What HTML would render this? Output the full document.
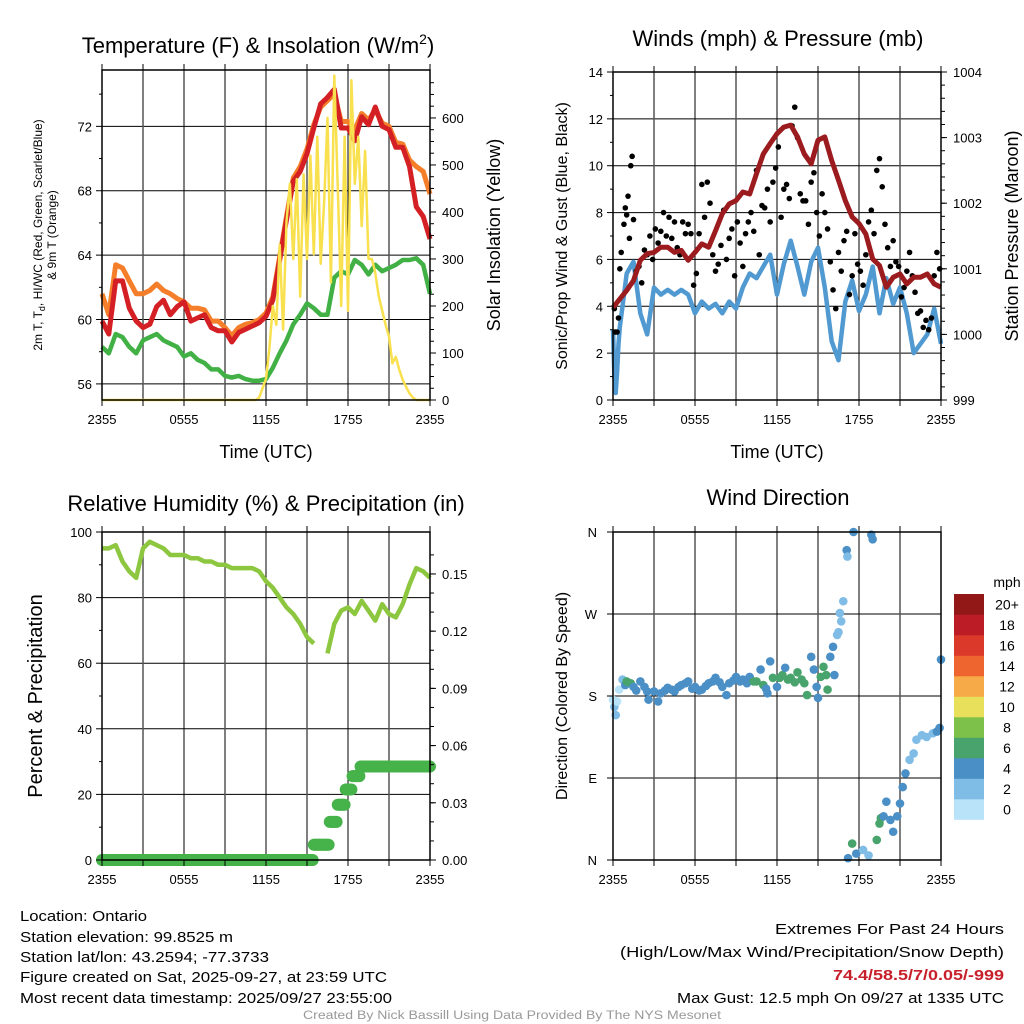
<!DOCTYPE html>
<html><head><meta charset="utf-8"><title>Mesonet Meteogram</title>
<style>
html,body{margin:0;padding:0;background:#fff;}
svg{display:block;font-family:"Liberation Sans",sans-serif;}
</style></head>
<body>
<svg id="chart" width="1024" height="1024" viewBox="0 0 1024 1024" xmlns="http://www.w3.org/2000/svg"></svg>
<script>
// ---------- DATA ----------
const xTickLabels = ["2355","0555","1155","1755","2355"];
const tempTicks = [56,60,64,68,72];
const solarTicks = [0,100,200,300,400,500,600];
const windTicks = [0,2,4,6,8,10,12,14];
const presTicks = [999,1000,1001,1002,1003,1004];
const rhTicks = [0,20,40,60,80,100];
const precTicks = [0.00,0.03,0.06,0.09,0.12,0.15];
const dirTickLabels = ["N","E","S","W","N"];
const speedBinLabels = ["0","2","4","6","8","10","12","14","16","18","20+"];

// temperature (half-hour samples from 2355)
const temp2m = [59.9,59.1,62.4,62.4,60.7,59.9,59.5,59.7,60.8,61.2,60.3,60.8,61.1,59.9,60.1,60.3,59.5,59.3,59.3,58.6,59.2,59.4,59.6,59.8,60.2,61.2,63.7,66.2,68.6,69.2,70.3,71.9,73.4,73.8,74.3,71.9,71.9,71.1,72.6,72.1,73.2,72.0,71.8,70.7,70.7,69.5,67.0,66.4,65.0];
const temp9m = [61.6,60.3,63.4,63.2,62.4,61.6,61.6,61.8,62.2,61.8,61.6,61.3,61.1,60.7,60.7,60.6,59.9,59.9,59.5,59.0,59.5,59.7,59.8,60.0,60.4,61.4,63.9,66.4,68.8,69.5,70.6,72.1,73.2,73.6,74.0,72.3,72.3,71.8,72.8,72.4,73.0,72.2,72.0,71.0,70.9,69.9,69.5,69.2,67.8];
const dewpoint = [58.3,57.9,59.1,58.9,58.3,57.9,58.7,58.9,59.1,58.7,58.5,58.3,57.7,57.9,57.5,57.3,56.9,56.9,56.5,56.4,56.5,56.3,56.2,56.2,56.3,57.0,57.9,58.7,59.7,60.3,61.0,60.7,60.3,60.3,62.6,63.0,62.8,63.7,63.4,62.8,63.4,63.0,63.2,63.4,63.7,63.7,63.8,63.4,61.6];
// solar: value at 2355 then quarter-hour samples from hour 11
const solarStartHour = 11;
const solarFirst = 0;
const solar = [0,0,5,25,45,110,200,160,330,150,380,460,300,470,220,480,300,520,310,560,290,420,600,250,690,450,200,560,190,680,460,560,370,530,300,300,270,220,190,160,135,78,92,64,43,28,14,5,0,0,0,0,0];

// winds
const windHoursStart = [0,0.1,0.2,0.3,0.4,0.5];
const windStartVals = [3.0,1.0,0.3,1.2,2.4,3.1];
const windHalfHourly = [5.4,5.9,3.7,2.8,4.8,4.5,4.7,4.5,4.7,4.5,3.7,4.2,3.9,4.1,3.7,4.2,3.9,4.8,5.4,5.2,5.7,6.2,4.5,5.8,6.8,5.7,4.5,5.9,6.5,4.8,2.5,1.7,4.2,5.1,3.8,4.5,5.7,3.7,5.2,4.1,4.8,3.7,2.0,2.4,2.8,3.9,2.4];
const gustHours = [0.1,0.15,0.3,0.4,0.5,0.6,0.8,0.9,1.0,1.1,1.2,1.3,1.4,1.5,1.7,1.9,2.1,2.3,2.5,2.7,2.9,3.1,3.3,3.5,3.7,3.9,4.1,4.3,4.5,4.7,4.9,5.1,5.3,5.5,5.7,5.9,6.1,6.3,6.5,6.7,6.9,7.1,7.3,7.5,7.7,7.9,8.1,8.3,8.5,8.7,8.9,9.1,9.3,9.5,9.7,9.9,10.1,10.3,10.5,10.7,10.9,11.1,11.3,11.5,11.7,11.9,12.1,12.3,12.5,12.7,12.9,13.1,13.3,13.5,13.7,13.9,14.1,14.3,14.5,14.7,14.9,15.1,15.3,15.5,15.7,15.9,16.1,16.3,16.5,16.7,16.9,17.1,17.3,17.5,17.7,17.9,18.1,18.3,18.5,18.7,18.9,19.1,19.3,19.5,19.7,19.9,20.1,20.3,20.5,20.7,20.9,21.1,21.3,21.5,21.7,21.9,22.1,22.3,22.5,22.7,22.9,23.1,23.3,23.5,23.7,23.9];
const gustVals = [3.9,2.9,2.9,3.5,5.6,6.3,7.5,8.2,7.9,8.7,6.9,10.0,10.4,7.7,5.5,5.7,5.0,6.4,6.2,7.0,6.0,7.3,6.7,7.2,8.0,7.0,7.8,6.9,7.6,6.5,6.2,7.6,7.1,7.5,7.1,4.9,5.4,7.1,9.2,7.8,9.3,8.4,6.2,5.5,5.8,6.6,8.1,6.0,6.9,7.3,5.3,7.6,6.7,5.7,7.1,7.6,8.0,7.2,9.8,6.2,8.3,8.2,9.0,7.6,9.3,9.9,10.8,7.8,9.0,9.2,8.6,11.7,12.5,11.2,8.8,8.5,8.5,7.5,9.3,9.7,8.0,7.0,8.8,8.0,7.3,5.9,4.7,3.9,6.3,5.5,6.8,7.2,4.5,5.3,7.1,5.8,5.5,4.9,6.2,7.6,8.1,7.1,9.8,10.3,9.1,7.5,6.5,5.7,6.8,5.9,5.7,4.4,4.8,5.5,6.3,5.3,4.6,3.7,3.8,3.1,3.4,3.0,3.5,5.3,6.3,5.6];
const pressure = [1000.41,1000.54,1000.67,1000.82,1001.13,1001.23,1001.25,1001.33,1001.33,1001.25,1001.28,1001.13,1001.25,1001.38,1001.33,1001.58,1001.84,1001.99,1002.04,1002.17,1002.14,1002.45,1002.75,1002.91,1003.06,1003.16,1003.19,1003.01,1002.75,1002.60,1002.96,1003.01,1002.65,1002.35,1002.04,1001.79,1001.69,1001.53,1001.15,1001.05,1000.72,1000.87,1000.92,1000.77,1000.87,1000.87,1000.92,1000.77,1000.72];

// humidity & precip
const rh = [95,95,96,91,88,86,95,97,96,95,93,93,93,92,92,91,91,90,90,89,89,89,89,88,85,83,80,77,75,72,68,66,null,63,72,76,77,75,79,76,73,78,75,74,78,84,89,88,86];
const precipStepHours = [0,15.5,16.6,17.2,17.8,18.3,18.9];
const precipStepVals = [0,0.008,0.02,0.029,0.037,0.044,0.049];

// wind direction
const dirHours = [0.0,0.1,0.2,0.3,0.45,0.7,0.9,1.0,1.3,1.5,1.7,2.0,2.3,2.5,2.6,3.0,3.3,3.5,3.8,4.0,4.3,4.5,4.8,5.0,5.3,5.5,5.8,6.0,6.3,6.5,6.8,7.0,7.3,7.5,7.8,8.0,8.3,8.5,8.8,9.0,9.3,9.5,9.8,10.0,10.3,10.5,10.8,11.0,11.2,11.3,11.5,11.7,12.0,12.2,12.4,12.6,12.8,13.0,13.3,13.5,13.8,14.0,14.2,14.5,14.7,14.9,15.0,15.2,15.4,15.6,15.7,15.9,16.1,16.2,16.4,16.5,16.6,16.7,16.85,17.1,17.15,17.6,18.9,19.0,17.2,17.5,17.8,18.3,18.7,19.3,19.5,19.6,19.8,20.0,20.3,20.5,20.8,21.0,21.2,21.4,21.7,22.0,22.2,22.6,22.95,23.4,23.7,23.9,24.0];
const dirDeg = [176,168,159,174,187,198,192,196,194,190,186,196,190,185,176,185,174,183,186,189,187,185,190,192,194,196,188,190,186,187,191,194,196,200,195,190,181,194,197,201,196,198,194,201,196,196,209,192,188,183,218,200,190,200,203,211,198,200,195,206,198,194,181,223,209,190,178,201,212,203,187,223,234,203,247,250,271,262,284,340,333,360,357,352,2,18,7,11,5,22,40,46,48,64,44,31,48,62,80,95,110,117,132,137,135,139,141,145,220];
const dirSpeed = [1,3,3,1,1,3,5,7,7,5,5,5,5,5,5,5,5,5,5,5,5,5,5,5,5,5,5,5,5,5,5,5,5,5,5,5,5,5,5,5,5,5,5,5,7,7,5,7,5,5,5,7,5,7,7,5,7,7,7,7,7,7,7,5,5,5,5,7,7,7,7,5,5,5,3,3,3,3,3,5,3,5,5,5,5,7,5,3,3,7,7,7,5,5,5,5,5,5,5,5,3,3,3,3,3,3,5,5,5];
const speedColors = ["#b8e3f8","#7fbce6","#4a8fc6","#48a46c","#7dc04a","#e8e05a","#f6ab48","#ef6530","#db3a2a","#bb1c25","#921818"];

// ---------- HELPERS ----------
const NS = "http://www.w3.org/2000/svg";
const svg = document.getElementById("chart");
function el(tag, attrs, parent){
  const e = document.createElementNS(NS, tag);
  for (const k in attrs) e.setAttribute(k, attrs[k]);
  (parent||svg).appendChild(e);
  return e;
}
function txt(s, x, y, size, anchor, parent, extra){
  const t = el("text", Object.assign({x:x, y:y, "font-size":size, "text-anchor":anchor||"middle", fill:"#000"}, extra||{}), parent);
  t.textContent = s;
  return t;
}
function scale(d0,d1,r0,r1){ return v => r0 + (v-d0)/(d1-d0)*(r1-r0); }
function pathFrom(xs, ys, sx, sy){
  let d="", pen=false;
  for (let i=0;i<xs.length;i++){
    if (ys[i]===null){ pen=false; continue; }
    d += (pen?"L":"M") + sx(xs[i]).toFixed(1) + "," + sy(ys[i]).toFixed(1);
    pen=true;
  }
  return d;
}
function halfHours(n){ const a=[]; for(let i=0;i<n;i++) a.push(i*0.5); return a; }

function frame(g, L, T, R, B, hGrid, sy, vGridX){
  for (const v of hGrid){
    const ln = el("line",{x1:L,x2:R,y1:sy(v),y2:sy(v),stroke:"#000","stroke-width":1},g);
    
    
  }
  vGridX.forEach((x,i)=>{
    const ln = el("line",{x1:x,x2:x,y1:T,y2:B,stroke:(i%2? "#000":"#555"),"stroke-width":(i%2?1:1.5)},g);
    
    
  });
}
function border(g, L, T, R, B){
  const r = el("rect",{x:L,y:T,width:R-L,height:B-T,fill:"none",stroke:"#000","stroke-width":1.5},g);
  
  
}
function xAxis(g, L, R, T, B, sx, labelY){
  for (let h=0; h<=24; h+=3){
    el("line",{x1:sx(h),x2:sx(h),y1:B,y2:B+6,stroke:"#000","stroke-width":1},g);
    el("line",{x1:sx(h),x2:sx(h),y1:T,y2:T-6,stroke:"#000","stroke-width":1},g);
  }
  xTickLabels.forEach((s,i)=>{
    const t = txt(s, sx(i*6), labelY, 13, "middle", g);
    
    
  });
}
function yTicksLeft(g, L, ticks, sy, fmt, minor){
  ticks.forEach(v=>{
    el("line",{x1:L-6,x2:L,y1:sy(v),y2:sy(v),stroke:"#000"},g);
    const t = txt(fmt(v), L-10, sy(v)+5, 13, "end", g);
    
    
  });
  (minor||[]).forEach(v=> el("line",{x1:L-3,x2:L,y1:sy(v),y2:sy(v),stroke:"#000"},g));
}
function yTicksRight(g, R, ticks, sy, fmt, minor){
  ticks.forEach(v=>{
    el("line",{x1:R,x2:R+6,y1:sy(v),y2:sy(v),stroke:"#000"},g);
    const t = txt(fmt(v), R+12, sy(v)+5, 13, "start", g);
    
    
  });
  (minor||[]).forEach(v=> el("line",{x1:R,x2:R+4,y1:sy(v),y2:sy(v),stroke:"#000"},g));
}
function rotLabel(g, s, x, y, size){
  return txt(s, x, y, size, "middle", g, {transform:"rotate(-90 "+x+" "+y+")"});
}

// ---------- PANEL 1: Temperature ----------
(function(){
  const L=102,R=430,T=70,B=400;
  const g = el("g",{});  
  const sx = scale(0,24,L,R), sy = scale(55,75.5,B,T), sr = scale(0,702,B,T);
  const vg=[]; for(let h=3;h<24;h+=3) vg.push(sx(h));
  frame(g,L,T,R,B,tempTicks,sy,vg);
  const hh = halfHours(49);
  const o = el("path",{d:pathFrom(hh,temp9m,sx,sy),fill:"none",stroke:"#f47e2a","stroke-width":5,"stroke-linejoin":"round"},g);
   
  const r = el("path",{d:pathFrom(hh,temp2m,sx,sy),fill:"none",stroke:"#d42025","stroke-width":5,"stroke-linejoin":"round"},g);
   
  const gr = el("path",{d:pathFrom(hh,dewpoint,sx,sy),fill:"none",stroke:"#41b045","stroke-width":4.5,"stroke-linejoin":"round"},g);
   
  const sh=[0], sv=[solarFirst];
  solar.forEach((v,i)=>{ sh.push(solarStartHour+i*0.25); sv.push(v); });
  const y = el("path",{d:pathFrom(sh,sv,sx,sr),fill:"none",stroke:"#f8e04e","stroke-width":2.5,"stroke-linejoin":"round"},g);
   
  border(g,L,T,R,B);
  xAxis(g,L,R,T,B,sx,424);
  yTicksLeft(g,L,tempTicks,sy,v=>String(v),[58,62,66,70,74]);
  const mn=[]; for(let v=25; v<700; v+=25) if(v%100) mn.push(v);
  yTicksRight(g,R,solarTicks,sr,v=>String(v),mn);
  const t1 = txt("Temperature (F) & Insolation (W/m", 258, 53, 22, "middle", g);
   
  const sup = el("tspan",{"font-size":14,dy:-9},t1); sup.textContent="2";
  const cl = el("tspan",{dy:9},t1); cl.textContent=")";
  const xl = txt("Time (UTC)", 266, 458, 18, "middle", g);
   
  const yl = el("text",{x:42,y:235,"font-size":12,"text-anchor":"middle",transform:"rotate(-90 42 235)"},g);
   
  yl.innerHTML = '2m T, T<tspan font-size="9" dy="3">d</tspan><tspan dy="-3">, HI/WC (Red, Green, Scarlet/Blue)</tspan>';
  const yl2 = txt("& 9m T (Orange)", 56, 235, 12, "middle", g, {transform:"rotate(-90 56 235)"});
   
  const rl = rotLabel(g,"Solar Insolation (Yellow)",500,235,18);
   
})();

// ---------- PANEL 2: Winds ----------
(function(){
  const L=613,R=941,T=72,B=400;
  const g = el("g",{});  
  const sx = scale(0,24,L,R), sy = scale(0,14,B,T), sp = scale(999,1004,B,T);
  const vg=[]; for(let h=3;h<24;h+=3) vg.push(sx(h));
  frame(g,L,T,R,B,windTicks,sy,vg);
  const wh = windHoursStart.slice(), wv = windStartVals.slice();
  windHalfHourly.forEach((v,i)=>{ wh.push(1+i*0.5); wv.push(v); });
  const b = el("path",{d:pathFrom(wh,wv,sx,sy),fill:"none",stroke:"#5199d1","stroke-width":4.5,"stroke-linejoin":"round"},g);
   
  gustHours.forEach((h,i)=>{
    const c = el("circle",{cx:sx(h),cy:sy(gustVals[i]),r:2.8,fill:"#000"},g);
    
    
  });
  const p = el("path",{d:pathFrom(halfHours(49),pressure,sx,sp),fill:"none",stroke:"#9b1b1e","stroke-width":5,"stroke-linejoin":"round"},g);
   
  border(g,L,T,R,B);
  xAxis(g,L,R,T,B,sx,424);
  yTicksLeft(g,L,windTicks,sy,v=>String(v),[1,3,5,7,9,11,13]);
  const mn=[]; for(let v=999.2; v<1004; v+=0.2) mn.push(v);
  yTicksRight(g,R,presTicks,sp,v=>String(v),mn);
  const t = txt("Winds (mph) & Pressure (mb)", 778, 46, 22, "middle", g);
   
  const xl = txt("Time (UTC)", 777, 458, 18, "middle", g);
   
  const yl = rotLabel(g,"Sonic/Prop Wind & Gust (Blue, Black)",567,236,16);
   
  const rl = rotLabel(g,"Station Pressure (Maroon)",1018,236,18);
   
})();

// ---------- PANEL 3: RH & Precip ----------
(function(){
  const L=102,R=430,T=532,B=860;
  const g = el("g",{});  
  const sx = scale(0,24,L,R), sy = scale(0,100,B,T), sp = scale(0,0.172,B,T);
  const vg=[]; for(let h=3;h<24;h+=3) vg.push(sx(h));
  frame(g,L,T,R,B,rhTicks,sy,vg);
  const line = el("path",{d:pathFrom(halfHours(49),rh,sx,sy),fill:"none",stroke:"#8dc63f","stroke-width":4.5,"stroke-linejoin":"round"},g);
   
  for (let k=0;k<=24*12;k++){
    const h = k/12;
    let v = precipStepVals[0];
    for (let j=0;j<precipStepHours.length;j++) if (h>=precipStepHours[j]) v = precipStepVals[j];
    const c = el("circle",{cx:sx(h),cy:sp(v),r:6,fill:"#46b24a"},g);
    
    
  }
  border(g,L,T,R,B);
  xAxis(g,L,R,T,B,sx,884);
  yTicksLeft(g,L,rhTicks,sy,v=>String(v),[10,30,50,70,90]);
  const mn=[]; for(let v=0.01; v<0.17; v+=0.01) mn.push(v);
  yTicksRight(g,R,precTicks,sp,v=>v.toFixed(2),mn);
  const t = txt("Relative Humidity (%) & Precipitation (in)", 266, 511, 22, "middle", g);
   
  const yl = rotLabel(g,"Percent & Precipitation",42,696,20);
   
})();

// ---------- PANEL 4: Wind Direction ----------
(function(){
  const L=613,R=941,T=532,B=860;
  const g = el("g",{});  
  const sx = scale(0,24,L,R), sy = scale(0,360,B,T);
  const vg=[]; for(let h=3;h<24;h+=3) vg.push(sx(h));
  frame(g,L,T,R,B,[90,180,270],sy,vg);
  dirHours.forEach((h,i)=>{
    const bin = Math.min(10, Math.floor(dirSpeed[i]/2));
    const c = el("circle",{cx:sx(h),cy:sy(dirDeg[i]),r:4.3,fill:speedColors[bin]},g);
    
    
  });
  border(g,L,T,R,B);
  xAxis(g,L,R,T,B,sx,884);
  dirTickLabels.forEach((s,i)=>{
    el("line",{x1:L-6,x2:L,y1:sy(i*90),y2:sy(i*90),stroke:"#000"},g);
    const t = txt(s, L-16, sy(i*90)+5, 13, "end", g);
     
  });
  const t = txt("Wind Direction", 778, 505, 22, "middle", g);
   
  const yl = rotLabel(g,"Direction (Colored By Speed)",567,696,16);
   
  const cb = el("g",{},g);  
  const top=594, bh=20.5;
  speedColors.forEach((c,i)=>{
    const y = top + (10-i)*bh;
    const r = el("rect",{x:954,y:y,width:30,height:bh+0.3,fill:c},cb);
     
    const l = txt(speedBinLabels[i], 1007, y+bh/2+5, 14, "middle", cb);
     
  });
  const u = txt("mph", 1007, 587, 14, "middle", cb);
   
})();

// ---------- FOOTER ----------
(function(){
  const g = el("g",{});  
  const left = [["Location: Ontario",921,127],["Station elevation: 99.8525 m",942,213],["Station lat/lon: 43.2594; -77.3733",962,249],["Figure created on Sat, 2025-09-27, at 23:59 UTC",982,367],["Most recent data timestamp: 2025/09/27 23:55:00",1003,372]];
  left.forEach(a=>{
    const t = txt(a[0],20,a[1],15,"start",g,{textLength:a[2],lengthAdjust:"spacingAndGlyphs"});
     
  });
  const right = [["Extremes For Past 24 Hours",934,229,"#000","normal"],["(High/Low/Max Wind/Precipitation/Snow Depth)",957,384,"#000","normal"],["74.4/58.5/7/0.05/-999",980,171,"#c8202a","bold"],["Max Gust: 12.5 mph On 09/27 at 1335 UTC",1003,327,"#000","normal"]];
  right.forEach(a=>{
    const t = txt(a[0],1004,a[1],15,"end",g,{textLength:a[2],lengthAdjust:"spacingAndGlyphs",fill:a[3],"font-weight":a[4]});
     
  });
  const c = txt("Created By Nick Bassill Using Data Provided By The NYS Mesonet",512,1019,11.5,"middle",g,{fill:"#999",textLength:418,lengthAdjust:"spacingAndGlyphs"});
   
})();
</script>
</body></html>
